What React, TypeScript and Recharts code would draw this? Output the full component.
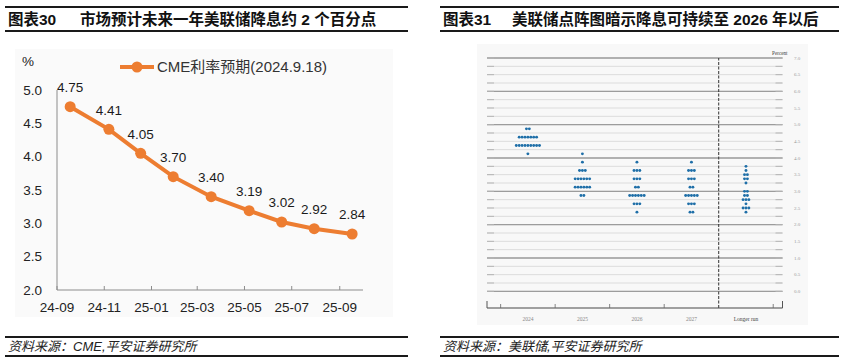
import React from 'react';
import {
  LineChart,
  Line,
  XAxis,
  YAxis,
  LabelList,
  Legend,
  ScatterChart,
  Scatter,
  CartesianGrid,
  ReferenceLine,
} from 'recharts';

// ---------------- Left chart data (CME expectations) ----------------
const cmeSeriesName = 'CME利率预期(2024.9.18)';
const cmeDates = [
  '2024-09-18',
  '2024-11-07',
  '2024-12-18',
  '2025-01-29',
  '2025-03-19',
  '2025-05-07',
  '2025-06-18',
  '2025-07-30',
  '2025-09-17',
];
const cmeRates = [4.75, 4.41, 4.05, 3.7, 3.4, 3.19, 3.02, 2.92, 2.84];
const cmeTickDates = ['2024-09-01', '2024-11-01', '2025-01-01', '2025-03-01', '2025-05-01', '2025-07-01', '2025-09-01'];
const cmeTickLabels = ['24-09', '24-11', '25-01', '25-03', '25-05', '25-07', '25-09'];
const cmeDomainDates = ['2024-09-01', '2025-10-01'];
const cmeYTicks = [2.0, 2.5, 3.0, 3.5, 4.0, 4.5, 5.0];
const cmeYDomain = [2, 5];

// ---------------- Right chart data (FOMC dot plot, Sep 2024) ----------------
const dotCategories = ['2024', '2025', '2026', '2027', 'Longer run'];
const dots2024 = [
  [4.875, 2],
  [4.625, 7],
  [4.375, 9],
  [4.125, 1],
];
const dots2025 = [
  [4.125, 1],
  [3.875, 1],
  [3.625, 3],
  [3.375, 6],
  [3.125, 6],
  [2.875, 2],
];
const dots2026 = [
  [3.875, 1],
  [3.625, 3],
  [3.375, 3],
  [3.125, 2],
  [2.875, 6],
  [2.625, 3],
  [2.375, 1],
];
const dots2027 = [
  [3.875, 1],
  [3.625, 3],
  [3.375, 3],
  [3.125, 2],
  [2.875, 5],
  [2.625, 3],
  [2.375, 2],
];
const dotsLongerRun = [
  [3.75, 1],
  [3.625, 1],
  [3.5, 2],
  [3.375, 2],
  [3.25, 1],
  [3.0, 2],
  [2.875, 2],
  [2.75, 3],
  [2.625, 1],
  [2.5, 3],
  [2.375, 1],
];
const dotColumns = [dots2024, dots2025, dots2026, dots2027, dotsLongerRun];
const dotGridLevels = [
  0, 0.25, 0.5, 0.75, 1, 1.25, 1.5, 1.75, 2, 2.25, 2.5, 2.75, 3, 3.25, 3.5, 3.75, 4, 4.25, 4.5, 4.75, 5, 5.25, 5.5,
  5.75, 6, 6.25, 6.5, 6.75, 7,
];
const dotMajorLevels = [0, 1, 2, 3, 4, 5, 6, 7];
const dotLabelLevels = [0, 0.5, 1, 1.5, 2, 2.5, 3, 3.5, 4, 4.5, 5, 5.5, 6, 6.5, 7];
const dotYDomain = [-0.5, 7];
const dotXDomain = [-0.75, 4.67];
const dotDividerTicks = [-0.5, 0.5, 1.5, 2.5, 3.5, 4.5];
const dotLongerRunDivider = 3.5;

// ---------------- derived tables ----------------
const toDay = (s: string) => Date.parse(s + 'T00:00:00Z') / 86400000;
const cmeData = cmeDates.map((d, i) => ({ t: toDay(d), rate: cmeRates[i] }));
const cmeTicks = cmeTickDates.map(toDay);
const cmeTickLabelMap = new Map<number, string>(cmeTicks.map((t, i) => [t, cmeTickLabels[i]]));
const cmeDomain = cmeDomainDates.map(toDay);

const dotPoints = dotColumns.flatMap((col, ci) => col.map(([rate, n]) => ({ x: ci, y: rate, n })));
const dotXTicks = [dotXDomain[0], ...dotDividerTicks, ...dotCategories.map((_, i) => i), dotXDomain[1]].sort(
  (a, b) => a - b
);

const ORANGE = '#ED7D31';
const DOT_BLUE = '#1f6fa8';
const LATIN = '"Liberation Sans", Arial, "Noto Sans CJK SC", sans-serif';
const SERIF = '"Liberation Serif", "DejaVu Serif", serif';

const DotRow = (props: any) => {
  const { cx, cy, payload } = props;
  if (cx == null || cy == null) return null;
  const n = payload.n as number;
  const step = 2.9;
  const items = [];
  for (let i = 0; i < n; i++) {
    items.push(<circle key={i} cx={cx + (i - (n - 1) / 2) * step} cy={cy} r={1.45} fill={DOT_BLUE} />);
  }
  return <g>{items}</g>;
};

const BottomTick = (props: any) => {
  const { x, y, payload } = props;
  const v = payload.value as number;
  if (v === dotXDomain[0] || v === dotXDomain[1]) {
    return <line x1={x} x2={x} y1={y - 7} y2={y} stroke="#555" strokeWidth={1} />;
  }
  if (Number.isInteger(v)) {
    const dark = v === dotCategories.length - 1;
    return (
      <text
        x={x}
        y={y + 11}
        dy="0.35em"
        textAnchor="middle"
        fontFamily={SERIF}
        fontSize={5.5}
        fill={dark ? '#444' : '#888'}
      >
        {dotCategories[v]}
      </text>
    );
  }
  if (v === dotLongerRunDivider) return null;
  return <line x1={x} x2={x} y1={y - 4} y2={y} stroke="#666" strokeWidth={0.8} />;
};

const LeftTick = (props: any) => {
  const { x, y } = props;
  return <line x1={x} x2={x + 7} y1={y} y2={y} stroke="#b5b5b5" strokeWidth={1} />;
};

const RightTick = (props: any) => {
  const { x, y, payload } = props;
  const v = payload.value as number;
  const labeled = dotLabelLevels.includes(v);
  return (
    <g>
      <line x1={x - 7} x2={x} y1={y} y2={y} stroke="#b5b5b5" strokeWidth={1} />
      {labeled && (
        <text x={x + 14.5} y={y} dy="0.35em" textAnchor="middle" fontFamily={SERIF} fontSize={5} fill="#999">
          {v.toFixed(1)}
        </text>
      )}
    </g>
  );
};

const CmeLegend = () => (
  <div style={{ display: 'flex', alignItems: 'center', whiteSpace: 'nowrap' }}>
    <svg width={34} height={12} style={{ display: 'block' }}>
      <line x1={0} x2={34} y1={6} y2={6} stroke={ORANGE} strokeWidth={4} />
      <circle cx={17} cy={6} r={5.5} fill={ORANGE} />
    </svg>
    <span style={{ marginLeft: 3, fontSize: 15, color: '#333', fontFamily: LATIN, lineHeight: '18px' }}>
      {cmeSeriesName}
    </span>
  </div>
);

function Header(props: { left: number; width: number; label: string; text: string; textLeft: number }) {
  const { left, width, label, text, textLeft } = props;
  return (
    <>
      <div style={{ position: 'absolute', left, top: 6, width, height: 2, background: '#1a1a1a' }} />
      <div
        style={{
          position: 'absolute',
          left: left + 3,
          top: 9,
          height: 22,
          lineHeight: '22px',
          fontSize: 15.5,
          fontWeight: 'bold',
          color: '#111',
          fontFamily: LATIN,
          whiteSpace: 'nowrap',
        }}
      >
        {label}
      </div>
      <div
        style={{
          position: 'absolute',
          left: textLeft,
          top: 9,
          height: 22,
          lineHeight: '22px',
          fontSize: 15.5,
          fontWeight: 'bold',
          color: '#111',
          fontFamily: LATIN,
          whiteSpace: 'nowrap',
        }}
      >
        {text}
      </div>
      <div style={{ position: 'absolute', left, top: 30, width, height: 2, background: '#1a1a1a' }} />
    </>
  );
}

function Footer(props: { left: number; width: number; text: string }) {
  const { left, width, text } = props;
  return (
    <>
      <div style={{ position: 'absolute', left, top: 336, width, height: 2, background: '#1a1a1a' }} />
      <div
        style={{
          position: 'absolute',
          left: left + 3,
          top: 338,
          height: 18,
          lineHeight: '18px',
          fontSize: 13,
          fontStyle: 'italic',
          color: '#222',
          fontFamily: LATIN,
          whiteSpace: 'nowrap',
        }}
      >
        {text}
      </div>
      <div style={{ position: 'absolute', left, top: 355, width, height: 2, background: '#1a1a1a' }} />
    </>
  );
}

export default function App() {
  return (
    <div
      style={{
        position: 'absolute',
        left: 0,
        top: 0,
        width: 844,
        height: 364,
        background: '#ffffff',
        overflow: 'hidden',
        fontFamily: LATIN,
      }}
    >
      <Header left={5} width={403} label="图表30" text="市场预计未来一年美联储降息约 2 个百分点" textLeft={80} />
      <Header left={440} width={399} label="图表31" text="美联储点阵图暗示降息可持续至 2026 年以后" textLeft={512} />

      {/* left panel */}
      <div style={{ position: 'absolute', left: 15, top: 49, width: 378, height: 268, background: '#fafafa' }} />
      <div
        style={{
          position: 'absolute',
          left: 22,
          top: 53,
          fontSize: 13.5,
          lineHeight: '18px',
          color: '#222',
          fontFamily: LATIN,
        }}
      >
        %
      </div>
      <div style={{ position: 'absolute', left: 0, top: 40 }}>
        <LineChart width={410} height={280} data={cmeData} margin={{ top: 50, right: 47, bottom: 0, left: 0 }}>
          <XAxis
            dataKey="t"
            type="number"
            domain={cmeDomain}
            ticks={cmeTicks}
            interval={0}
            tickFormatter={(v: number) => cmeTickLabelMap.get(v) ?? ''}
            height={30}
            stroke="#8c8c8c"
            tickSize={-4}
            tickMargin={16}
            tick={{ fill: '#222', fontSize: 13.5, fontFamily: LATIN }}
            allowDataOverflow
          />
          <YAxis
            type="number"
            domain={cmeYDomain}
            ticks={cmeYTicks}
            interval={0}
            tickFormatter={(v: number) => v.toFixed(1)}
            width={57}
            axisLine={{ stroke: '#8c8c8c' }}
            tickLine={false}
            tickSize={0}
            tickMargin={15}
            tick={{ fill: '#222', fontSize: 13.5, fontFamily: LATIN }}
          />
          <Legend
            verticalAlign="middle"
            align="center"
            layout="horizontal"
            wrapperStyle={{ left: 120, top: 18, width: 'auto', height: 'auto' }}
            content={() => <CmeLegend />}
          />
          <Line
            dataKey="rate"
            name={cmeSeriesName}
            stroke={ORANGE}
            strokeWidth={4}
            dot={{ r: 5.5, fill: ORANGE, stroke: ORANGE, strokeWidth: 0 }}
            activeDot={false}
            isAnimationActive={false}
          >
            <LabelList
              dataKey="rate"
              position="top"
              offset={14.7}
              formatter={(v: any) => Number(v).toFixed(2)}
              fill="#1a1a1a"
              fontSize={13.5}
              fontFamily={LATIN}
            />
          </Line>
        </LineChart>
      </div>

      {/* right panel */}
      <div style={{ position: 'absolute', left: 477, top: 44, width: 331, height: 281, background: '#f8f8f8' }} />
      <div
        style={{
          position: 'absolute',
          left: 772,
          top: 49,
          fontSize: 5.2,
          lineHeight: '8px',
          color: '#444',
          fontFamily: SERIF,
          whiteSpace: 'nowrap',
        }}
      >
        Percent
      </div>
      <div style={{ position: 'absolute', left: 440, top: 40 }}>
        <ScatterChart width={400} height={290} margin={{ top: 18, right: 0, bottom: 0, left: 0 }}>
          <CartesianGrid yAxisId="l" vertical={false} stroke="#dcdcdc" strokeWidth={1} />
          <XAxis
            dataKey="x"
            type="number"
            domain={dotXDomain}
            ticks={dotXTicks}
            interval={0}
            height={22}
            axisLine={{ stroke: '#555', strokeWidth: 1 }}
            tickLine={false}
            tickSize={0}
            tickMargin={0}
            tick={<BottomTick />}
            allowDataOverflow
          />
          <YAxis
            yAxisId="l"
            dataKey="y"
            type="number"
            orientation="left"
            domain={dotYDomain}
            ticks={dotGridLevels}
            interval={0}
            width={47}
            axisLine={false}
            tickLine={false}
            tickSize={0}
            tickMargin={0}
            tick={<LeftTick />}
            allowDataOverflow
          />
          <YAxis
            yAxisId="r"
            type="number"
            orientation="right"
            domain={dotYDomain}
            ticks={dotGridLevels}
            interval={0}
            width={57.5}
            axisLine={false}
            tickLine={false}
            tickSize={0}
            tickMargin={0}
            tick={<RightTick />}
            allowDataOverflow
          />
          {dotMajorLevels.map((v) => (
            <ReferenceLine key={v} yAxisId="l" y={v} stroke="#9c9c9c" strokeWidth={1.3} />
          ))}
          <ReferenceLine
            yAxisId="l"
            x={dotLongerRunDivider}
            stroke="#333"
            strokeWidth={1}
            strokeDasharray="3 1.5"
          />
          <Scatter yAxisId="l" data={dotPoints} shape={DotRow} isAnimationActive={false} />
        </ScatterChart>
      </div>

      <Footer left={5} width={403} text="资料来源：CME,平安证券研究所" />
      <Footer left={440} width={399} text="资料来源：美联储,平安证券研究所" />
    </div>
  );
}
